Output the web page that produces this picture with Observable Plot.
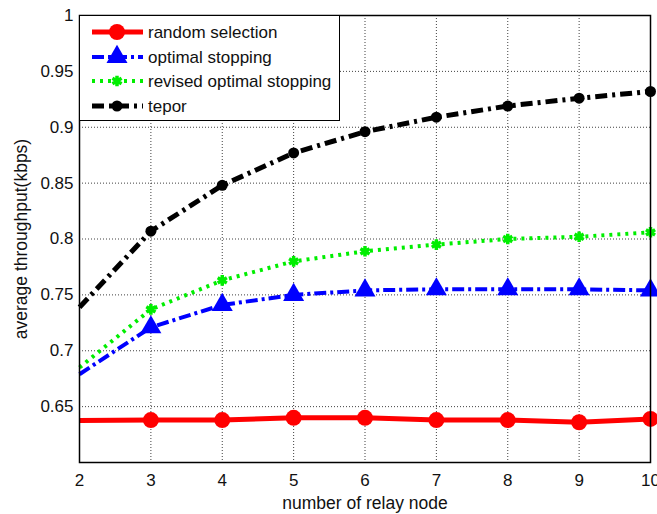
<!DOCTYPE html>
<html>
<head>
<meta charset="utf-8">
<script src="https://cdn.jsdelivr.net/npm/d3@7"></script>
<script src="https://cdn.jsdelivr.net/npm/@observablehq/plot@0.6"></script>
<style>
  html, body { margin: 0; padding: 0; background: #fff; }
  #wrap { position: relative; width: 657px; height: 514px; font-family: "Liberation Sans", Arial, sans-serif; }
  #legend { position: absolute; background: #fff; border: 1.5px solid #000; box-sizing: border-box; }
</style>
</head>
<body>
<div id="wrap"></div>
<script>
// ---- data ----
const relayNodes = [2, 3, 4, 5, 6, 7, 8, 9, 10];
const randomSelection = [0.6375, 0.638, 0.638, 0.640, 0.640, 0.638, 0.638, 0.636, 0.639];
const optimalStopping = [0.679, 0.721, 0.741, 0.750, 0.754, 0.755, 0.755, 0.755, 0.754];
const revisedOptimalStopping = [0.685, 0.737, 0.763, 0.780, 0.789, 0.795, 0.800, 0.802, 0.806];
const tepor = [0.739, 0.807, 0.848, 0.877, 0.896, 0.909, 0.919, 0.926, 0.932];
const seriesNames = ["random selection", "optimal stopping", "revised optimal stopping", "tepor"];
const xTicks = [2, 3, 4, 5, 6, 7, 8, 9, 10];
const yTicks = [0.65, 0.7, 0.75, 0.8, 0.85, 0.9, 0.95, 1];
const yGrid = [0.65, 0.7, 0.75, 0.8, 0.85, 0.9, 0.95];

// styles per series
const styles = [
  {color: "#ff0000", width: 5, dash: null, symbol: "circle", r: 8, fill: true},
  {color: "#0000ff", width: 4, dash: "12,4,3,4", symbol: "triangle", r: 7.8, fill: true},
  {color: "#00ee00", width: 4, dash: "3,5", symbol: "asterisk", r: 5, fill: false},
  {color: "#000000", width: 5, dash: "12,5,3,5", symbol: "circle", r: 5.5, fill: true}
];
const values = [randomSelection, optimalStopping, revisedOptimalStopping, tepor];

const tables = values.map((vals, i) => relayNodes.map((x, j) => ({x, y: vals[j], series: seriesNames[i]})));

const marks = [
  Plot.gridX(xTicks, {stroke: "#000", strokeOpacity: 0.75, strokeDasharray: "1,2", strokeWidth: 1}),
  Plot.gridY(yGrid, {stroke: "#000", strokeOpacity: 0.75, strokeDasharray: "1,2", strokeWidth: 1}),
];
tables.forEach((t, i) => {
  const s = styles[i];
  marks.push(Plot.line(t, {x: "x", y: "y", stroke: s.color, strokeWidth: s.width, strokeDasharray: s.dash, strokeLinecap: "butt", strokeLinejoin: "round"}));
});
tables.forEach((t, i) => {
  const s = styles[i];
  const pts = t.filter(d => d.x > 2);
  if (s.fill) {
    marks.push(Plot.dot(pts, {x: "x", y: "y", symbol: () => s.symbol, r: s.r, fill: s.color, stroke: "none"}));
  } else {
    marks.push(Plot.dot(pts, {x: "x", y: "y", symbol: () => s.symbol, r: s.r, stroke: s.color, strokeWidth: 3.5, fill: "none"}));
  }
});
marks.push(Plot.frame({stroke: "#000", strokeWidth: 1.5}));
marks.push(Plot.axisX(xTicks, {tickSize: 0, tickPadding: 11, fontSize: 17, label: null}));
marks.push(Plot.axisX({tickSize: 0, ticks: [], label: "number of relay node", fontSize: 17.5, labelAnchor: "center", labelArrow: "none", labelOffset: 46}));
marks.push(Plot.axisY(yTicks, {tickSize: 0, tickPadding: 6, fontSize: 17, tickFormat: d => String(d), label: null}));
marks.push(Plot.axisY({tickSize: 0, ticks: [], label: "average throughput(kbps)", fontSize: 17.5, labelAnchor: "center", labelArrow: "none", labelOffset: 65}));

const chart = Plot.plot({
  width: 657,
  height: 514,
  marginLeft: 79,
  marginRight: 7,
  marginTop: 15,
  marginBottom: 52,
  style: {fontFamily: "'Liberation Sans', Arial, sans-serif", fontSize: "17px", color: "#111", background: "#fff", overflow: "visible"},
  x: {domain: [2, 10]},
  y: {domain: [0.6, 1]},
  symbol: {type: "identity"},
  marks
});
const wrap = document.getElementById("wrap");
wrap.appendChild(chart);

// ---- legend ----
const lg = document.createElement("div");
lg.id = "legend";
lg.style.left = "79px";
lg.style.top = "15px";
lg.style.width = "261px";
lg.style.height = "106px";
wrap.appendChild(lg);
const lsvg = d3.select(lg).append("svg").attr("width", 258).attr("height", 103)
  .style("position", "absolute").style("left", "0").style("top", "0");
const rowY = [16, 41, 65, 90];
seriesNames.forEach((name, i) => {
  const s = styles[i];
  const g = lsvg.append("g").attr("transform", `translate(0,${rowY[i]})`);
  g.append("line").attr("x1", 12).attr("x2", 63).attr("y1", 0).attr("y2", 0)
    .attr("stroke", s.color).attr("stroke-width", s.width)
    .attr("stroke-dasharray", s.dash).attr("stroke-linecap", "butt");
  const symType = {circle: d3.symbolCircle, triangle: d3.symbolTriangle, asterisk: d3.symbolAsterisk}[s.symbol];
  const path = g.append("path").attr("transform", "translate(37,0)")
    .attr("d", d3.symbol(symType, Math.PI * s.r * s.r)());
  if (s.fill) path.attr("fill", s.color);
  else path.attr("fill", "none").attr("stroke", s.color).attr("stroke-width", 3.5);
  g.append("text").attr("x", 68).attr("y", 0).attr("dy", "0.35em")
    .attr("font-size", 17).attr("font-family", "'Liberation Sans', Arial, sans-serif")
    .attr("fill", "#111").text(name);
});
</script>
</body>
</html>
